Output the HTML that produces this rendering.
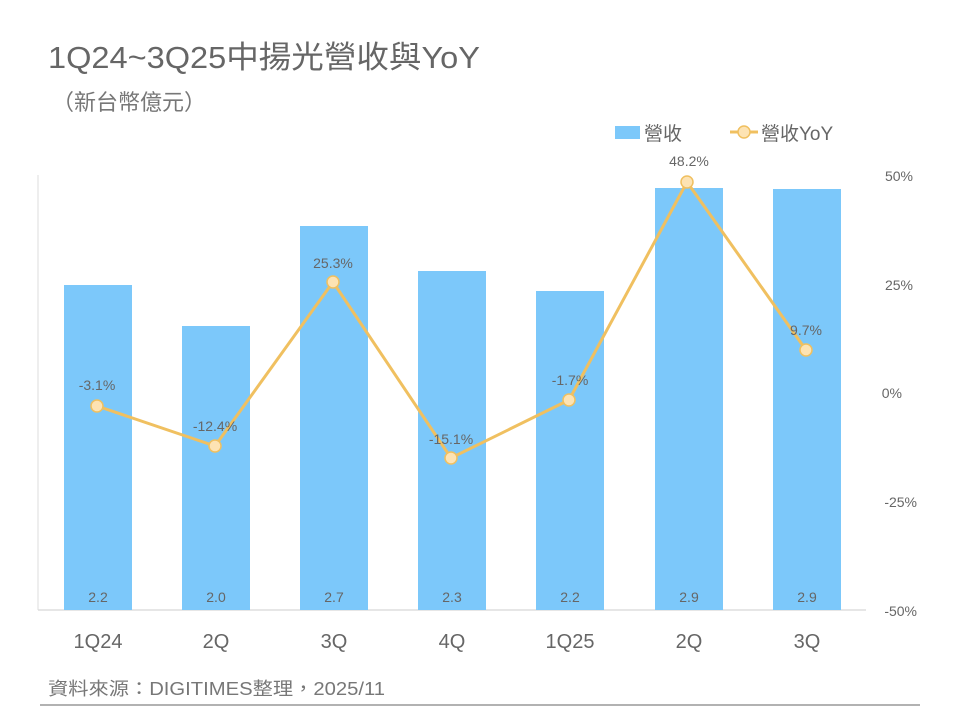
<!DOCTYPE html>
<html><head><meta charset="utf-8"><style>
body{margin:0;background:#fff}
svg text{font-family:"Liberation Sans","Noto Sans CJK TC",sans-serif}
</style></head><body>
<svg width="960" height="720" xmlns="http://www.w3.org/2000/svg">
<text x="48" y="68" font-size="31" fill="#666" textLength="432" lengthAdjust="spacingAndGlyphs">1Q24~3Q25中揚光營收與YoY</text>
<text x="52" y="110" font-size="22" fill="#777">（新台幣億元）</text>
<rect x="615" y="126" width="25" height="13" fill="#7cc8fa"/>
<text x="644" y="140" font-size="19" fill="#666">營收</text>
<line x1="730" y1="132" x2="758" y2="132" stroke="#f0c060" stroke-width="3"/>
<circle cx="744" cy="132" r="6" fill="#fde3b3" stroke="#f0c060" stroke-width="1.5"/>
<text x="761" y="140" font-size="19" fill="#666">營收YoY</text>
<line x1="38" y1="175" x2="38" y2="610" stroke="#ddd"/>
<line x1="38" y1="610" x2="866" y2="610" stroke="#ddd" stroke-width="1.5"/>
<g fill="#7cc8fa">
<rect x="64" y="285" width="68" height="325"/>
<rect x="182" y="326" width="68" height="284"/>
<rect x="300" y="226" width="68" height="384"/>
<rect x="418" y="271" width="68" height="339"/>
<rect x="536" y="291" width="68" height="319"/>
<rect x="655" y="188" width="68" height="422"/>
<rect x="773" y="189" width="68" height="421"/>
</g>
<g font-size="14" fill="#666" text-anchor="middle">
<text x="98" y="602">2.2</text><text x="216" y="602">2.0</text><text x="334" y="602">2.7</text><text x="452" y="602">2.3</text><text x="570" y="602">2.2</text><text x="689" y="602">2.9</text><text x="807" y="602">2.9</text>
</g>
<polyline points="97,406 215,446 333,282 451,458 569,400 687,182 806,350" fill="none" stroke="#f0c060" stroke-width="3"/>
<g fill="#fde3b3" stroke="#f0c060" stroke-width="1.5">
<circle cx="97" cy="406" r="6"/><circle cx="215" cy="446" r="6"/><circle cx="333" cy="282" r="6"/><circle cx="451" cy="458" r="6"/><circle cx="569" cy="400" r="6"/><circle cx="687" cy="182" r="6"/><circle cx="806" cy="350" r="6"/>
</g>
<g font-size="14" fill="#666" text-anchor="middle">
<text x="97" y="390">-3.1%</text><text x="215" y="431">-12.4%</text><text x="333" y="268">25.3%</text><text x="451" y="444">-15.1%</text><text x="570" y="385">-1.7%</text><text x="689" y="166">48.2%</text><text x="806" y="335">9.7%</text>
</g>
<g font-size="14" fill="#666" text-anchor="end">
<text x="913" y="181">50%</text><text x="913" y="290">25%</text><text x="902" y="398">0%</text><text x="917" y="507">-25%</text><text x="917" y="616">-50%</text>
</g>
<g font-size="20" fill="#666" text-anchor="middle">
<text x="98" y="648">1Q24</text><text x="216" y="648">2Q</text><text x="334" y="648">3Q</text><text x="452" y="648">4Q</text><text x="570" y="648">1Q25</text><text x="689" y="648">2Q</text><text x="807" y="648">3Q</text>
</g>
<text x="48" y="695" font-size="18" fill="#777" textLength="337" lengthAdjust="spacingAndGlyphs">資料來源：DIGITIMES整理，2025/11</text>
<line x1="40" y1="705" x2="920" y2="705" stroke="#999" stroke-width="1.5"/>
</svg>
</body></html>
